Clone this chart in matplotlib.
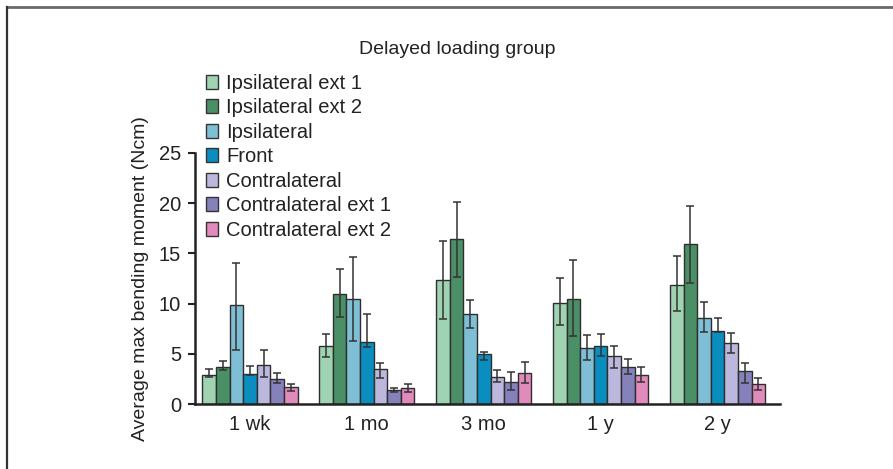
import matplotlib
matplotlib.use("Agg")
import matplotlib.pyplot as plt
import numpy as np
from matplotlib.lines import Line2D
from matplotlib.patches import Patch

plt.rcParams['font.family'] = ['Liberation Sans', 'DejaVu Sans']

categories = ["1 wk", "1 mo", "3 mo", "1 y", "2 y"]
series_names = ["Ipsilateral ext 1", "Ipsilateral ext 2", "Ipsilateral", "Front",
                "Contralateral", "Contralateral ext 1", "Contralateral ext 2"]
colors = ["#9fd3b2", "#4a8f66", "#7fbfd6", "#0a8dbf", "#bcb7dd", "#8581bb", "#e18bbd"]

# mean values per series (across categories)
ipsi_ext1 = [2.9, 5.8, 12.4, 10.1, 11.9]
ipsi_ext2 = [3.7, 11.0, 16.4, 10.5, 15.9]
ipsi = [9.9, 10.5, 9.0, 5.6, 8.6]
front = [3.0, 6.2, 5.0, 5.8, 7.25]
contra = [3.9, 3.45, 2.65, 4.8, 6.1]
contra_ext1 = [2.5, 1.35, 2.15, 3.7, 3.3]
contra_ext2 = [1.65, 1.6, 3.1, 2.9, 2.0]

# lower / upper ends of the error bars
ipsi_ext1_lo = [2.65, 4.7, 8.5, 7.9, 9.25]
ipsi_ext1_hi = [3.45, 7.0, 16.2, 12.5, 14.75]
ipsi_ext2_lo = [3.4, 8.7, 12.6, 6.8, 12.1]
ipsi_ext2_hi = [4.3, 13.4, 20.1, 14.3, 19.7]
ipsi_lo = [5.4, 6.25, 7.6, 4.4, 7.2]
ipsi_hi = [14.0, 14.6, 10.4, 6.9, 10.2]
front_lo = [2.9, 5.7, 4.4, 4.8, 7.2]
front_hi = [3.8, 9.0, 5.2, 7.0, 8.55]
contra_lo = [2.65, 2.55, 2.2, 3.55, 5.05]
contra_hi = [5.4, 4.05, 3.4, 5.8, 7.1]
contra_ext1_lo = [2.05, 1.2, 1.4, 3.0, 2.05]
contra_ext1_hi = [3.05, 1.55, 3.2, 4.5, 4.1]
contra_ext2_lo = [1.25, 1.15, 2.1, 2.15, 1.4]
contra_ext2_hi = [2.0, 1.95, 4.2, 3.65, 2.6]

values = [ipsi_ext1, ipsi_ext2, ipsi, front, contra, contra_ext1, contra_ext2]
lows = [ipsi_ext1_lo, ipsi_ext2_lo, ipsi_lo, front_lo, contra_lo, contra_ext1_lo, contra_ext2_lo]
highs = [ipsi_ext1_hi, ipsi_ext2_hi, ipsi_hi, front_hi, contra_hi, contra_ext1_hi, contra_ext2_hi]

fig = plt.figure(figsize=(8.93, 4.69), dpi=100)
ax = fig.add_axes([195/893, 1-404/469, 585/893, (404-153)/469])

x = np.arange(len(categories))
w = 0.1163
n = len(series_names)
for i in range(n):
    pos = x + (i - (n-1)/2) * w
    v = np.array(values[i])
    lo = v - np.array(lows[i])
    hi = np.array(highs[i]) - v
    ax.bar(pos, v, width=w, color=colors[i], edgecolor="#2e2e2e", linewidth=1.0, zorder=2)
    ax.errorbar(pos, v, yerr=[lo, hi], fmt="none", ecolor="#333333", elinewidth=1.1,
                capsize=3.2, capthick=1.1, zorder=3)

ax.set_xlim(-0.47, 4.534)
ax.set_ylim(0, 25)
ax.set_yticks([0, 5, 10, 15, 20, 25])
ax.set_xticks(x)
ax.set_xticklabels(categories, fontsize=14.5, color="#222222")
ax.tick_params(axis='x', length=0, pad=8)
ax.tick_params(axis='y', length=5, width=1.5, pad=5, labelsize=14.5, colors="#222222", direction='out')
for s in ["top", "right"]:
    ax.spines[s].set_visible(False)
for s in ["left", "bottom"]:
    ax.spines[s].set_linewidth(1.8)
    ax.spines[s].set_color("#222222")
ax.set_ylabel("Average max bending moment (Ncm)", fontsize=14, color="#222222", labelpad=7)

fig.text(457/893, 1-50/469, "Delayed loading group", ha="center", va="center", fontsize=14, color="#222222")

handles = [Patch(facecolor=colors[i], edgecolor="#333333", linewidth=1.0) for i in range(n)]
leg = fig.legend(handles, series_names, loc="upper left", bbox_to_anchor=(206/893, 1-74/469),
                 frameon=False, fontsize=14.5, handlelength=0.6, handleheight=0.7,
                 handletextpad=0.4, labelspacing=0.27, borderpad=0, borderaxespad=0)
for t in leg.get_texts():
    t.set_color("#222222")

# outer frame lines (top and left)
fig.add_artist(Line2D([7/893, 1.0], [1-7/469, 1-7/469], transform=fig.transFigure, color="#6a6a6a", linewidth=2))
fig.add_artist(Line2D([7/893, 7/893], [0, 1-7/469], transform=fig.transFigure, color="#333333", linewidth=1.6))

fig.savefig("out.png", dpi=100)
